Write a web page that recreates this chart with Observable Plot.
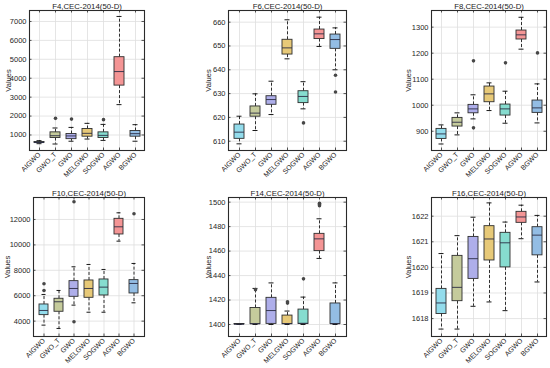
<!DOCTYPE html>
<html>
<head>
<meta charset="utf-8">
<script src="https://cdn.jsdelivr.net/npm/d3@7"></script>
<script src="https://cdn.jsdelivr.net/npm/@observablehq/plot@0.6"></script>
<style>
  html, body { margin: 0; padding: 0; background: #fff; }
  #wrap { position: relative; width: 550px; height: 368px; overflow: hidden; font-family: "Liberation Sans", Arial, sans-serif; }
  .cell { position: absolute; }
  .cell svg { overflow: visible; }
</style>
</head>
<body>
<div id="wrap"></div>
<script>
// ---- data ----
const categories = ["AIGWO", "GWO_T", "GWO", "MELGWO", "SOGWO", "AGWO", "BGWO"];
const boxColors = ["#93dcec", "#c5cb9c", "#aeaeea", "#e7c978", "#86dccf", "#f49595", "#93bde4"];
const titles = ["F4,CEC-2014(50-D)", "F6,CEC-2014(50-D)", "F8,CEC-2014(50-D)",
                "F10,CEC-2014(50-D)", "F14,CEC-2014(50-D)", "F16,CEC-2014(50-D)"];

// each row: [lower whisker, q1, median, q3, upper whisker]
const F4 = [[540, 580, 600, 630, 700], [523, 839, 960, 1139, 1370], [670, 780, 950, 1050, 1400],
            [786, 910, 1087, 1316, 1615], [715, 839, 980, 1139, 1560], [2604, 3610, 4352, 5112, 7265],
            [670, 910, 1070, 1210, 1545]];
const F4_out = [[1, 1880], [2, 1840], [4, 1810]];
const F4_ticks = [1000, 2000, 3000, 4000, 5000, 6000, 7000];

const F6 = [[608.9, 611.0, 613.8, 617.0, 620.5], [614.5, 620.3, 621.8, 624.6, 629.9], [621.2, 625.3, 627.5, 628.9, 635.2],
            [644.6, 646.4, 649.2, 652.6, 661.0], [623.6, 626.0, 628.8, 631.0, 635.0], [649.8, 652.9, 655.1, 656.9, 662.1],
            [640.0, 648.8, 652.7, 654.8, 657.6]];
const F6_out = [[4, 617.7], [6, 637.7], [6, 630.7]];
const F6_ticks = [610, 620, 630, 640, 650, 660];

const F8 = [[851, 870.5, 889.8, 909, 924.4], [886, 918, 934.6, 951.3, 970.6], [947.5, 969, 985.9, 1001.3, 1040],
            [979.5, 1011.5, 1043.6, 1071.8, 1085.9], [930.8, 960.3, 985.9, 1002.6, 1053.9], [1215.4, 1252.6, 1270.5, 1287, 1338],
            [932, 970.6, 989.8, 1018, 1082]];
const F8_out = [[2, 1170.5], [2, 913], [4, 1162.8], [6, 1201]];
const F8_ticks = [900, 1000, 1100, 1200, 1300];

const F10 = [[3685, 4472, 4839, 5311, 6098], [3423, 4737, 5524, 5760, 6413], [5259, 5914, 6570, 7147, 8276],
             [4700, 5836, 6570, 7200, 8459], [4700, 6019, 6675, 7279, 8066], [10295, 10820, 11423, 12052, 12524],
             [5442, 6177, 6964, 7226, 8538]];
const F10_out = [[0, 6940], [0, 6413], [2, 13390], [2, 3950], [6, 12446]];
const F10_ticks = [4000, 6000, 8000, 10000, 12000];

const F14 = [[1400.0, 1400.1, 1400.2, 1400.4, 1400.6], [1400.0, 1400.3, 1400.6, 1413.5, 1429.5], [1400.0, 1400.5, 1411.4, 1421.8, 1434.0],
             [1400.0, 1400.2, 1400.8, 1407.3, 1411.0], [1400.0, 1400.4, 1401.0, 1412.2, 1422.4], [1454.0, 1460.0, 1470.0, 1474.1, 1486.4],
             [1400.0, 1400.4, 1400.6, 1417.2, 1434.0]];
const F14_out = [[1, 1428.5], [3, 1417.5], [3, 1418.5], [4, 1437.3], [5, 1499.0], [5, 1498.0], [5, 1497.0]];
const F14_ticks = [1400, 1420, 1440, 1460, 1480, 1500];

const F16 = [[1617.59, 1618.18, 1618.61, 1619.16, 1620.54], [1617.59, 1618.68, 1619.22, 1620.45, 1621.24], [1618.48, 1619.55, 1620.34, 1621.19, 1621.96],
             [1618.65, 1620.27, 1621.11, 1621.61, 1622.52], [1618.31, 1620.0, 1620.96, 1621.35, 1621.77], [1621.12, 1621.74, 1621.97, 1622.17, 1622.43],
             [1619.43, 1620.47, 1621.26, 1621.57, 1622.03]];
const F16_out = [];
const F16_ticks = [1618, 1619, 1620, 1621, 1622];

// ---- layout ----
const panels = [
  {title: titles[0], stats: F4, out: F4_out, ticks: F4_ticks, domain: [180, 7580], left: 0, top: 0, w: 185, h: 184, ml: 29, mr: 41, mt: 10, mb: 34, lo: 24},
  {title: titles[1], stats: F6, out: F6_out, ticks: F6_ticks, domain: [606.1, 664.9], left: 185, top: 0, w: 185, h: 184, ml: 43, mr: 24, mt: 10, mb: 34, lo: 23},
  {title: titles[2], stats: F8, out: F8_out, ticks: F8_ticks, domain: [826, 1364], left: 370, top: 0, w: 180, h: 184, ml: 61, mr: 4, mt: 10, mb: 34, lo: 26},
  {title: titles[3], stats: F10, out: F10_out, ticks: F10_ticks, domain: [2790, 13730], left: 0, top: 184, w: 185, h: 184, ml: 33, mr: 41, mt: 13, mb: 32, lo: 29},
  {title: titles[4], stats: F14, out: F14_out, ticks: F14_ticks, domain: [1390.2, 1503.8], left: 185, top: 184, w: 185, h: 184, ml: 43, mr: 24, mt: 13, mb: 32, lo: 23},
  {title: titles[5], stats: F16, out: F16_out, ticks: F16_ticks, domain: [1617.3, 1622.73], left: 370, top: 184, w: 180, h: 184, ml: 61, mr: 4, mt: 13, mb: 32, lo: 26}
];

function makePanel(p) {
  const boxes = p.stats.map((s, i) => ({cat: categories[i], lo: s[0], q1: s[1], med: s[2], q3: s[3], hi: s[4]}));
  const outs = p.out.map(([i, v]) => ({cat: categories[i], v}));
  const pw = p.w - p.ml - p.mr, ph = p.h - p.mt - p.mb;
  const tk = 2.5;
  return Plot.plot({
    width: p.w, height: p.h,
    marginLeft: p.ml, marginRight: p.mr, marginTop: p.mt, marginBottom: p.mb,
    style: {fontFamily: '"Liberation Sans", Arial, sans-serif', fontSize: "7px", color: "#262626", background: "transparent", overflow: "visible"},
    x: {type: "band", domain: categories, paddingInner: 0.4, paddingOuter: 0.2, align: 0.5},
    y: {domain: p.domain, ticks: p.ticks},
    color: {domain: categories, range: boxColors},
    marks: [
      Plot.ruleY(p.ticks, {stroke: "#dedede", strokeWidth: 0.8}),
      Plot.ruleX(categories, {x: d => d, stroke: "#dedede", strokeWidth: 0.8}),
      // inward tick marks on all four sides
      Plot.tickY(p.ticks, {y: d => d, insetRight: pw - tk, stroke: "#2a2a2a", strokeWidth: 0.8}),
      Plot.tickY(p.ticks, {y: d => d, insetLeft: pw - tk, stroke: "#2a2a2a", strokeWidth: 0.8}),
      Plot.tickX(categories, {x: d => d, insetBottom: ph - tk, stroke: "#2a2a2a", strokeWidth: 0.8}),
      Plot.tickX(categories, {x: d => d, insetTop: ph - tk, stroke: "#2a2a2a", strokeWidth: 0.8}),
      Plot.ruleX(boxes, {x: "cat", y1: "q3", y2: "hi", stroke: "#1a1a1a", strokeWidth: 0.9, strokeDasharray: "3,2"}),
      Plot.ruleX(boxes, {x: "cat", y1: "q1", y2: "lo", stroke: "#1a1a1a", strokeWidth: 0.9, strokeDasharray: "3,2"}),
      Plot.tickY(boxes, {x: "cat", y: "hi", stroke: "#1a1a1a", strokeWidth: 1, insetLeft: 2.5, insetRight: 2.5}),
      Plot.tickY(boxes, {x: "cat", y: "lo", stroke: "#1a1a1a", strokeWidth: 1, insetLeft: 2.5, insetRight: 2.5}),
      Plot.barY(boxes, {x: "cat", y1: "q1", y2: "q3", fill: "cat", stroke: "#2e2e2e", strokeWidth: 0.9}),
      Plot.tickY(boxes, {x: "cat", y: "med", stroke: "#2b2d45", strokeWidth: 0.9}),
      Plot.dot(outs, {x: "cat", y: "v", r: 1.8, fill: "#474747", stroke: null}),
      Plot.frame({stroke: "#2a2a2a", strokeWidth: 1.1}),
      Plot.axisX({tickRotate: -45, tickSize: 0, tickPadding: 3, label: null, fontSize: 7}),
      Plot.axisY({ticks: p.ticks, tickSize: 0, tickPadding: 3, tickFormat: d => String(d), label: "Values", labelAnchor: "center", labelArrow: "none", labelOffset: p.lo, fontSize: 7.5}),
      Plot.text([p.title], {text: d => d, frameAnchor: "top", dy: -2, lineAnchor: "bottom", fontSize: 7.8, fill: "#1a1a1a"})
    ]
  });
}

const wrap = document.getElementById("wrap");
for (const p of panels) {
  const div = document.createElement("div");
  div.className = "cell";
  div.style.left = p.left + "px";
  div.style.top = p.top + "px";
  div.appendChild(makePanel(p));
  wrap.appendChild(div);
}
</script>
</body>
</html>
